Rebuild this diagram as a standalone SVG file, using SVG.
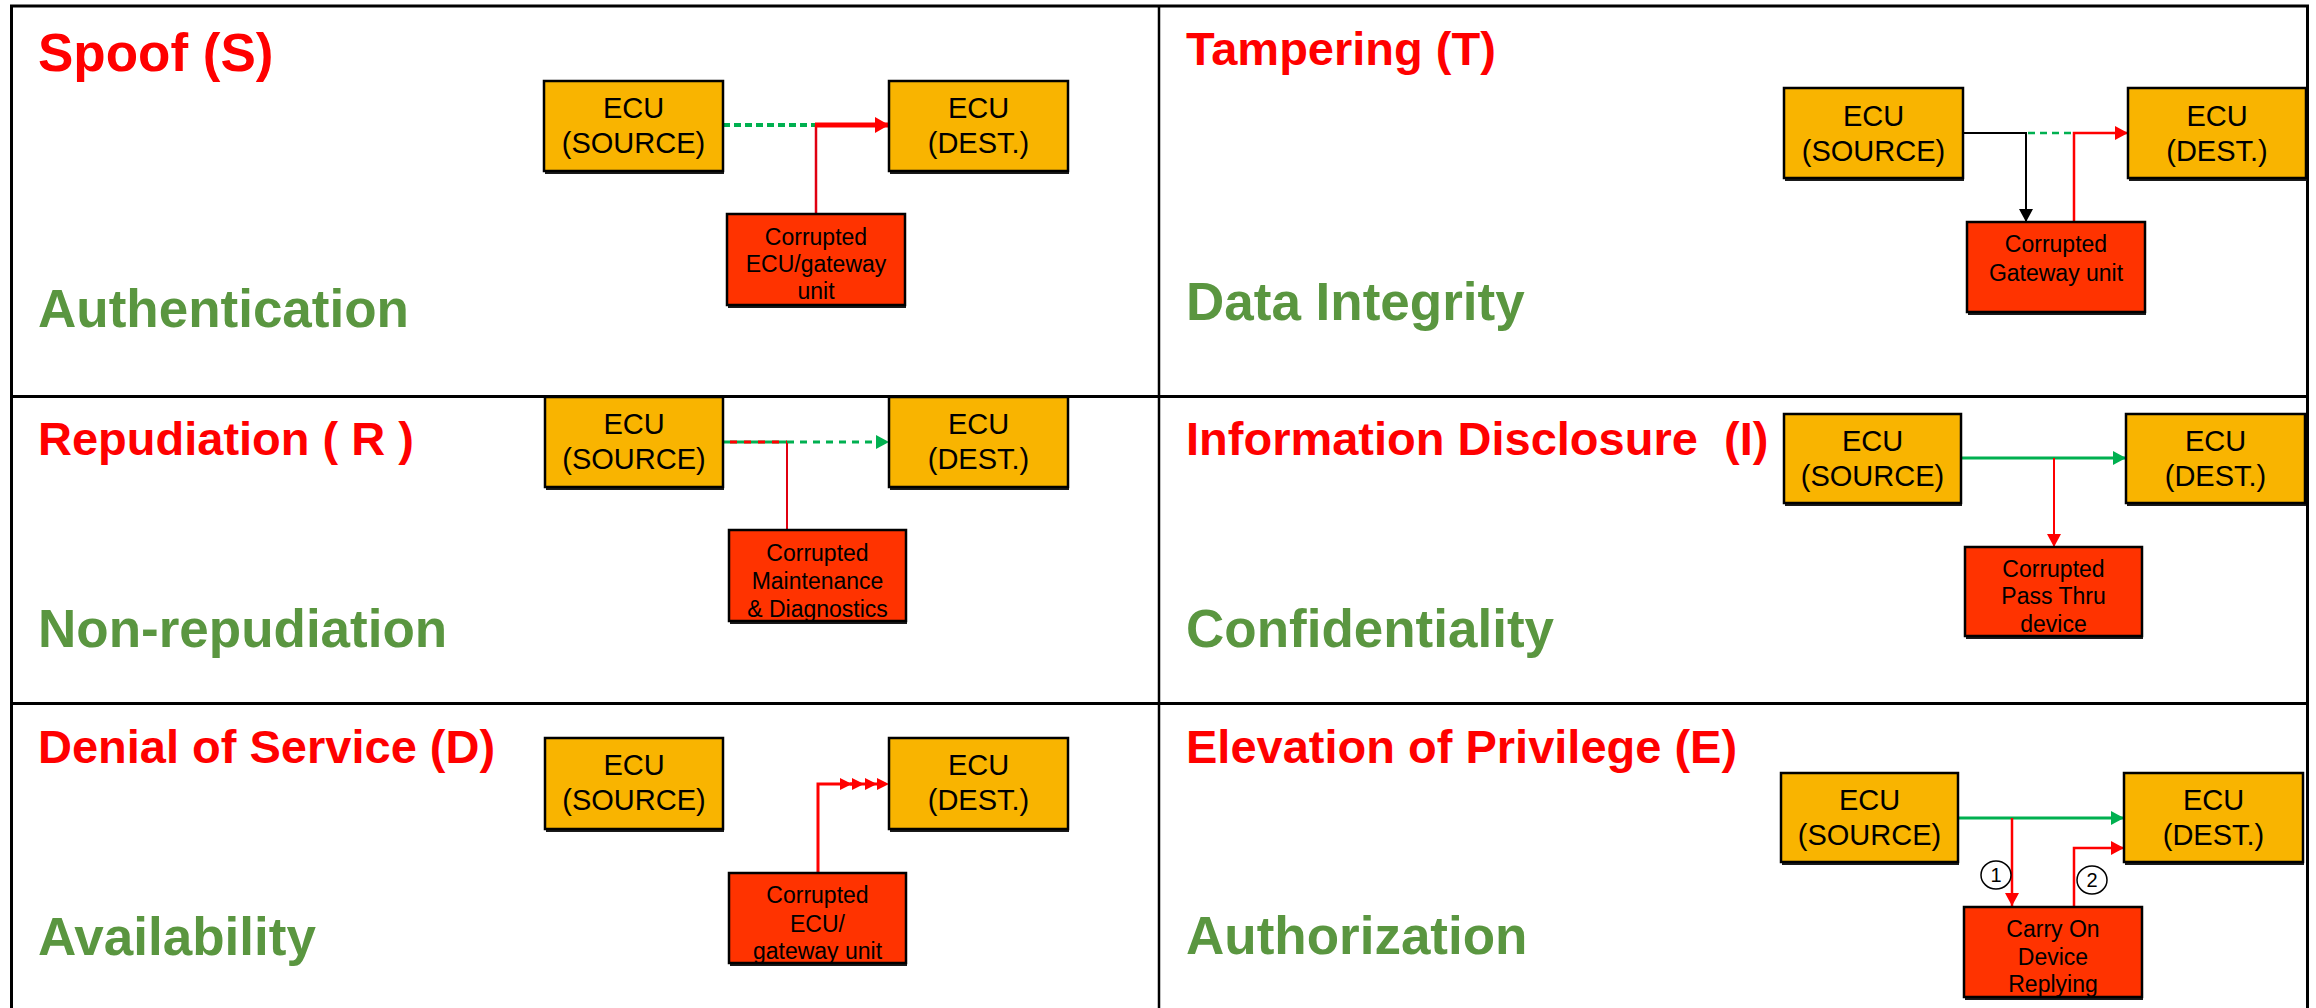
<svg xmlns="http://www.w3.org/2000/svg" width="2316" height="1008" viewBox="0 0 2316 1008">
  <style>
    .title { font-family: "Liberation Sans", Arial, sans-serif; font-weight: bold; fill: #FF0000; font-size: 47px; }
    .big { font-size: 53px; }
    .prop { font-family: "Liberation Sans", Arial, sans-serif; font-weight: bold; fill: #5A9640; font-size: 53px; }
    .ecu rect.body { fill: #F9B400; stroke: #000; stroke-width: 2.5; }
    .bad rect.body { fill: #FF3300; stroke: #000; stroke-width: 2.5; }
    rect.shadow { fill: #1a1a1a; }
    .ecu text { font-family: "Liberation Sans", Arial, sans-serif; font-size: 29px; fill: #000; text-anchor: middle; }
    .bad text { font-family: "Liberation Sans", Arial, sans-serif; font-size: 23px; fill: #000; text-anchor: middle; }
    .frame line { stroke: #000; stroke-width: 3; }
    .g { stroke: #00B050; fill: none; }
    .r { stroke: #FF0000; fill: none; }
    .k { stroke: #000; fill: none; }
    .num { font-family: "Liberation Sans", Arial, sans-serif; font-size: 20px; text-anchor: middle; fill: #000; }
  </style>
  <defs>
    <marker id="arrRed" markerUnits="userSpaceOnUse" markerWidth="13" markerHeight="14" refX="13" refY="7" orient="auto">
      <path d="M0,0 L13,7 L0,14 z" fill="#FF0000"/>
    </marker>
    <marker id="arrRedBig" markerUnits="userSpaceOnUse" markerWidth="14" markerHeight="16" refX="14" refY="8" orient="auto">
      <path d="M0,0 L14,8 L0,16 z" fill="#FF0000"/>
    </marker>
    <marker id="arrGreen" markerUnits="userSpaceOnUse" markerWidth="13" markerHeight="14" refX="13" refY="7" orient="auto">
      <path d="M0,0 L13,7 L0,14 z" fill="#00B050"/>
    </marker>
    <marker id="arrBlack" markerUnits="userSpaceOnUse" markerWidth="13" markerHeight="14" refX="13" refY="7" orient="auto">
      <path d="M0,0 L13,7 L0,14 z" fill="#000"/>
    </marker>
  </defs>

  <rect width="2316" height="1008" fill="#fff"/>

  <!-- table grid -->
  <g class="frame">
    <line x1="10" y1="6" x2="2309" y2="6"/>
    <line x1="11.5" y1="5" x2="11.5" y2="1008"/>
    <line x1="2307.5" y1="5" x2="2307.5" y2="1008"/>
    <line x1="1159" y1="6" x2="1159" y2="1008" style="stroke-width:2.5"/>
    <line x1="10" y1="396.5" x2="2309" y2="396.5"/>
    <line x1="10" y1="703.5" x2="2309" y2="703.5"/>
  </g>

  <!-- threat / property headings -->
  <g id="headings">
    <text class="title big" x="38" y="71">Spoof (S)</text>
    <text class="prop" x="38" y="327">Authentication</text>
    <text class="title" x="1186" y="65">Tampering (T)</text>
    <text class="prop" x="1186" y="320">Data Integrity</text>
    <text class="title" x="38" y="455">Repudiation ( R )</text>
    <text class="prop" x="38" y="647">Non-repudiation</text>
    <text class="title" x="1186" y="455" style="white-space:pre">Information Disclosure  (I)</text>
    <text class="prop" x="1186" y="647">Confidentiality</text>
    <text class="title" x="38" y="763">Denial of Service (D)</text>
    <text class="prop" x="38" y="955">Availability</text>
    <text class="title" x="1186" y="763">Elevation of Privilege (E)</text>
    <text class="prop" x="1186" y="954">Authorization</text>
  </g>

  <!-- connectors -->
  <g id="connectors" stroke-linecap="butt">
    <!-- Spoof -->
    <line class="g" x1="723" y1="125" x2="816" y2="125" stroke-width="4" stroke-dasharray="7 4"/>
    <line class="r" x1="816" y1="214" x2="816" y2="125" stroke-width="2.5" style="stroke:#E00010"/>
    <line class="r" x1="815" y1="125" x2="889" y2="125" stroke-width="5" marker-end="url(#arrRedBig)"/>

    <!-- Tampering -->
    <polyline class="k" points="1963,133 2026,133 2026,222" stroke-width="2" marker-end="url(#arrBlack)"/>
    <line class="g" x1="2028" y1="133" x2="2074" y2="133" stroke-width="2.5" stroke-dasharray="7 5"/>
    <polyline class="r" points="2074,222 2074,133 2128,133" stroke-width="2.5" marker-end="url(#arrRed)"/>

    <!-- Repudiation -->
    <line class="g" x1="723" y1="442" x2="787" y2="442" stroke-width="3"/>
    <line class="r" x1="730" y1="442" x2="787" y2="442" stroke-width="3" stroke-dasharray="7 7"/>
    <line class="g" x1="787" y1="442" x2="889" y2="442" stroke-width="3" stroke-dasharray="7 6" marker-end="url(#arrGreen)"/>
    <line class="r" x1="787" y1="443" x2="787" y2="530" stroke-width="2" style="stroke:#E00010"/>

    <!-- Information Disclosure -->
    <line class="g" x1="1961" y1="458" x2="2126" y2="458" stroke-width="3" marker-end="url(#arrGreen)"/>
    <line class="r" x1="2054" y1="458" x2="2054" y2="547" stroke-width="2" marker-end="url(#arrRed)"/>

    <!-- Denial of Service: repeated arrowheads -->
    <polyline class="r" points="818,873 818,784 852,784" stroke-width="3"/>
    <path d="M840,778 L852,784 L840,790 z M852,778 L864,784 L852,790 z M865,778 L877,784 L865,790 z M877,778 L889,784 L877,790 z" fill="#FF0000"/>
    <line class="r" x1="850" y1="784" x2="880" y2="784" stroke-width="3"/>

    <!-- Elevation of Privilege -->
    <line class="g" x1="1958" y1="818" x2="2124" y2="818" stroke-width="3" marker-end="url(#arrGreen)"/>
    <line class="r" x1="2012" y1="818" x2="2012" y2="906" stroke-width="2.5" marker-end="url(#arrRed)"/>
    <polyline class="r" points="2074,907 2074,848 2124,848" stroke-width="2.5" marker-end="url(#arrRed)"/>
    <ellipse cx="1996" cy="875" rx="15" ry="14" fill="#fff" stroke="#000" stroke-width="1.5"/>
    <text class="num" x="1996" y="882">1</text>
    <ellipse cx="2092" cy="880" rx="15" ry="14" fill="#fff" stroke="#000" stroke-width="1.5"/>
    <text class="num" x="2092" y="887">2</text>
  </g>

  <!-- Spoof panel nodes -->
  <g id="spoof-src" class="ecu">
    <rect class="shadow" x="545" y="84" width="179" height="90"/>
    <rect class="body" x="544" y="81" width="179" height="90"/>
    <text x="633.5" y="118">ECU</text><text x="633.5" y="153">(SOURCE)</text>
  </g>
  <g id="spoof-dst" class="ecu">
    <rect class="shadow" x="890" y="84" width="179" height="90"/>
    <rect class="body" x="889" y="81" width="179" height="90"/>
    <text x="978.5" y="118">ECU</text><text x="978.5" y="153">(DEST.)</text>
  </g>
  <g id="spoof-attacker" class="bad">
    <rect class="shadow" x="728" y="217" width="178" height="91"/>
    <rect class="body" x="727" y="214" width="178" height="91"/>
    <text x="816" y="245">Corrupted</text><text x="816" y="272">ECU/gateway</text><text x="816" y="299">unit</text>
  </g>

  <!-- Tampering panel nodes -->
  <g id="tamper-src" class="ecu">
    <rect class="shadow" x="1785" y="91" width="179" height="90"/>
    <rect class="body" x="1784" y="88" width="179" height="90"/>
    <text x="1873.5" y="126">ECU</text><text x="1873.5" y="161">(SOURCE)</text>
  </g>
  <g id="tamper-dst" class="ecu">
    <rect class="shadow" x="2129" y="91" width="178" height="90"/>
    <rect class="body" x="2128" y="88" width="178" height="90"/>
    <text x="2217" y="126">ECU</text><text x="2217" y="161">(DEST.)</text>
  </g>
  <g id="tamper-attacker" class="bad">
    <rect class="shadow" x="1968" y="225" width="178" height="90"/>
    <rect class="body" x="1967" y="222" width="178" height="90"/>
    <text x="2056" y="252">Corrupted</text><text x="2056" y="281">Gateway unit</text>
  </g>

  <!-- Repudiation panel nodes -->
  <g id="repud-src" class="ecu">
    <rect class="shadow" x="546" y="400" width="178" height="90"/>
    <rect class="body" x="545" y="397" width="178" height="90"/>
    <text x="634" y="434">ECU</text><text x="634" y="469">(SOURCE)</text>
  </g>
  <g id="repud-dst" class="ecu">
    <rect class="shadow" x="890" y="400" width="179" height="90"/>
    <rect class="body" x="889" y="397" width="179" height="90"/>
    <text x="978.5" y="434">ECU</text><text x="978.5" y="469">(DEST.)</text>
  </g>
  <g id="repud-attacker" class="bad">
    <rect class="shadow" x="730" y="533" width="177" height="91"/>
    <rect class="body" x="729" y="530" width="177" height="91"/>
    <text x="817.5" y="561">Corrupted</text><text x="817.5" y="589">Maintenance</text><text x="817.5" y="617">&amp; Diagnostics</text>
  </g>

  <!-- Information Disclosure panel nodes -->
  <g id="info-src" class="ecu">
    <rect class="shadow" x="1785" y="417" width="177" height="89"/>
    <rect class="body" x="1784" y="414" width="177" height="89"/>
    <text x="1872.5" y="451">ECU</text><text x="1872.5" y="486">(SOURCE)</text>
  </g>
  <g id="info-dst" class="ecu">
    <rect class="shadow" x="2127" y="417" width="179" height="89"/>
    <rect class="body" x="2126" y="414" width="179" height="89"/>
    <text x="2215.5" y="451">ECU</text><text x="2215.5" y="486">(DEST.)</text>
  </g>
  <g id="info-attacker" class="bad">
    <rect class="shadow" x="1966" y="550" width="177" height="89"/>
    <rect class="body" x="1965" y="547" width="177" height="89"/>
    <text x="2053.5" y="577">Corrupted</text><text x="2053.5" y="604">Pass Thru</text><text x="2053.5" y="632">device</text>
  </g>

  <!-- Denial of Service panel nodes -->
  <g id="dos-src" class="ecu">
    <rect class="shadow" x="546" y="741" width="178" height="91"/>
    <rect class="body" x="545" y="738" width="178" height="91"/>
    <text x="634" y="775">ECU</text><text x="634" y="810">(SOURCE)</text>
  </g>
  <g id="dos-dst" class="ecu">
    <rect class="shadow" x="890" y="741" width="179" height="91"/>
    <rect class="body" x="889" y="738" width="179" height="91"/>
    <text x="978.5" y="775">ECU</text><text x="978.5" y="810">(DEST.)</text>
  </g>
  <g id="dos-attacker" class="bad">
    <rect class="shadow" x="730" y="876" width="177" height="90"/>
    <rect class="body" x="729" y="873" width="177" height="90"/>
    <text x="817.5" y="903">Corrupted</text><text x="817.5" y="932">ECU/</text><text x="817.5" y="959">gateway unit</text>
  </g>

  <!-- Elevation of Privilege panel nodes -->
  <g id="eop-src" class="ecu">
    <rect class="shadow" x="1782" y="776" width="177" height="89"/>
    <rect class="body" x="1781" y="773" width="177" height="89"/>
    <text x="1869.5" y="810">ECU</text><text x="1869.5" y="845">(SOURCE)</text>
  </g>
  <g id="eop-dst" class="ecu">
    <rect class="shadow" x="2125" y="776" width="179" height="89"/>
    <rect class="body" x="2124" y="773" width="179" height="89"/>
    <text x="2213.5" y="810">ECU</text><text x="2213.5" y="845">(DEST.)</text>
  </g>
  <g id="eop-attacker" class="bad">
    <rect class="shadow" x="1965" y="910" width="178" height="90"/>
    <rect class="body" x="1964" y="907" width="178" height="90"/>
    <text x="2053" y="937">Carry On</text><text x="2053" y="965">Device</text><text x="2053" y="992">Replying</text>
  </g>
</svg>
